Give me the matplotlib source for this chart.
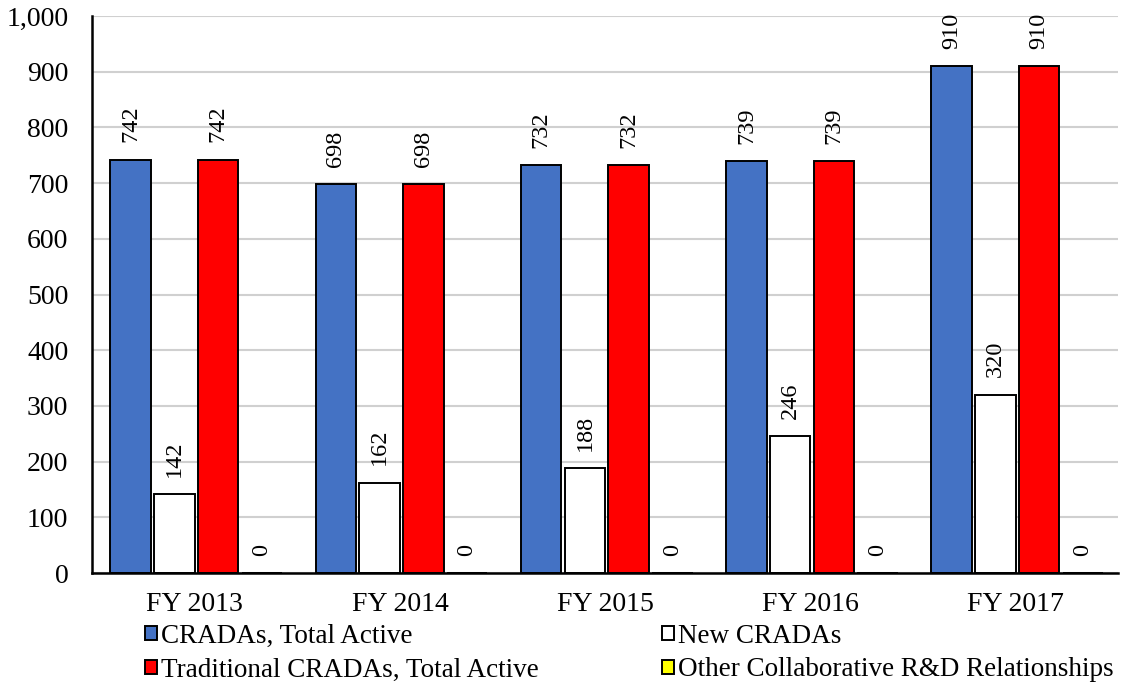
import numpy as np
import matplotlib.pyplot as plt
from matplotlib.ticker import FuncFormatter

plt.rcParams["font.family"] = ["Liberation Serif", "DejaVu Serif"]

years = ["FY 2013", "FY 2014", "FY 2015", "FY 2016", "FY 2017"]
total_active = [742, 698, 732, 739, 910]
new_cradas = [142, 162, 188, 246, 320]
traditional = [742, 698, 732, 739, 910]
other_rd = [0, 0, 0, 0, 0]

series = [("CRADAs, Total Active", total_active, "#4472C4"),
          ("New CRADAs", new_cradas, "#FFFFFF"),
          ("Traditional CRADAs, Total Active", traditional, "#FF0000"),
          ("Other Collaborative R&D Relationships", other_rd, "#FFFF00")]

fig = plt.figure(figsize=(11.29, 6.85), dpi=100)
ax = fig.add_axes([0.0815, 0.1635, 0.909, 0.813])

x = np.arange(len(years))
step = 0.213
width = 0.197
offsets = [-1.5 * step, -0.5 * step, 0.5 * step, 1.5 * step]

handles = []
for (label, vals, color), off in zip(series, offsets):
    bars = ax.bar(x + off + 0.008, vals, width, color=color, edgecolor="black",
                  linewidth=1.4, label=label, zorder=3)
    handles.append(bars)
    for xi, v in zip(x + off + 0.008, vals):
        ax.annotate(f"{v}", (xi, v), xytext=(0, 12.5), textcoords="offset points",
                    rotation=90, ha="center", va="bottom", fontsize=17.5)

ax.set_xlim(-0.5, len(years) - 0.5)
ax.set_ylim(0, 1000)
ax.set_yticks(np.arange(0, 1001, 100))
ax.yaxis.set_major_formatter(FuncFormatter(lambda v, p: f"{int(v):,}"))
ax.set_xticks(x)
ax.set_xticklabels(years)
ax.tick_params(axis="both", length=0, labelsize=20)
ax.tick_params(axis="x", pad=14)
ax.tick_params(axis="y", pad=17)
ax.grid(axis="y", color="#D0D0D0", linewidth=1.5, zorder=0)
for side in ["top", "right"]:
    ax.spines[side].set_visible(False)
for side in ["left", "bottom"]:
    ax.spines[side].set_linewidth(1.8)
    ax.spines[side].set_zorder(4)

# legend fills column-wise, so reorder to get rows like the original
order = [0, 2, 1, 3]
fig.legend(handles=[handles[i] for i in order], loc="lower left",
           bbox_to_anchor=(0.114, -0.02),
           ncol=2, frameon=False, fontsize=19.5, handlelength=0.45,
           handleheight=0.45, handletextpad=0.15, columnspacing=4.55,
           labelspacing=0.33, borderaxespad=0.2)

fig.savefig("out.png", dpi=100)
